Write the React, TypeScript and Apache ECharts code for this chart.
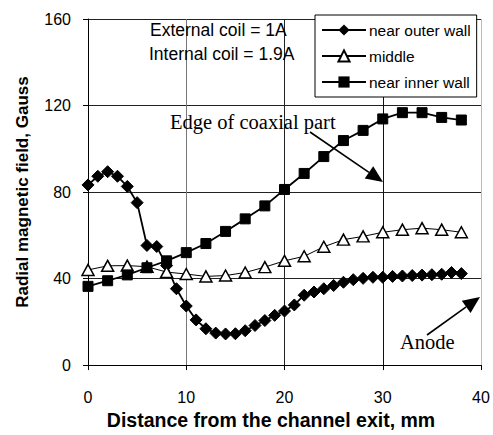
import React, { useEffect, useRef } from "react";
import * as echarts from "echarts";

const outerX = [0,1,2,3,4,5,6,7,8,9,10,11,12,13,14,15,16,17,18,19,20,21,22,23,24,25,26,27,28,29,30,31,32,33,34,35,36,37,38];
const outerY = [83.3,87.3,89.4,87.3,82.6,75.1,55.3,54.8,46,35.3,27.3,20.9,16.8,14.8,14.4,14.5,15.9,18.3,20.6,23,25,27.8,32.3,33.8,35.3,36.8,38.3,39.5,40.1,40.6,40.6,41,41.2,41.4,41.6,41.8,42,42.8,42.3];
const evenX = [0,2,4,6,8,10,12,14,16,18,20,22,24,26,28,30,32,34,36,38];
const middleY = [44,45.9,46,45.5,43,42.1,41,41.4,42.8,45.3,48.2,50.3,54.7,58,59.5,61.4,62.6,63.3,62.6,61.4];
const innerY = [36.4,39,41.7,45,48.2,52,56.2,61.8,67.6,73.6,81.2,88.6,96.4,103.8,108.5,113.8,116.7,116.7,114.5,113.3];
const xTicks = [0, 10, 20, 30, 40];
const yTicks = [0, 40, 80, 120, 160];
const seriesNames = ["near outer wall", "middle", "near inner wall"];

const SANS = "'Liberation Sans', Arial, sans-serif";
const SERIF = "'Liberation Serif', 'Times New Roman', serif";

function pairs(xs: number[], ys: number[]) {
  return xs.map((x, i) => [x, ys[i]]);
}

function arrow(x1: number, y1: number, x2: number, y2: number, headLen: number, headHalf: number) {
  const dx = x2 - x1, dy = y2 - y1;
  const len = Math.sqrt(dx * dx + dy * dy);
  const ux = dx / len, uy = dy / len;
  const bx = x2 - ux * headLen, by = y2 - uy * headLen;
  const px = -uy * headHalf, py = ux * headHalf;
  return [
    { type: "line", shape: { x1, y1, x2: bx, y2: by }, style: { stroke: "#000", lineWidth: 1.6 } },
    { type: "polygon", shape: { points: [[x2, y2], [bx + px, by + py], [bx - px, by - py]] }, style: { fill: "#000" } },
  ];
}

export default function App() {
  const ref = useRef<HTMLDivElement>(null);
  useEffect(() => {
    if (!ref.current) return;
    const chart = echarts.init(ref.current, undefined, { renderer: "svg" });
    chart.setOption({
      animation: false,
      backgroundColor: "#fff",
      grid: { left: 88, right: 12, top: 19, bottom: 64, containLabel: false },
      legend: {
        orient: "vertical",
        left: 315,
        top: 15,
        data: seriesNames,
        backgroundColor: "#fff",
        borderColor: "#000",
        borderWidth: 1,
        borderRadius: 0,
        padding: [7, 6, 7, 6],
        itemGap: 10,
        itemWidth: 44,
        itemHeight: 14,
        textStyle: { fontFamily: SANS, fontSize: 15.5, color: "#000", padding: [0, 0, 0, -2] },
        z: 10,
      },
      xAxis: {
        type: "value",
        min: 0,
        max: 40,
        interval: 10,
        name: "Distance from the channel exit, mm",
        nameLocation: "middle",
        nameGap: 41,
        nameTextStyle: { fontFamily: SANS, fontSize: 19.5, fontWeight: "bold", color: "#000", padding: [0, 27, 0, 0] },
        axisLine: { onZero: false, lineStyle: { color: "#000", width: 1 } },
        axisTick: { show: true, length: 5, inside: false, lineStyle: { color: "#000" } },
        axisLabel: {
          margin: 24,
          fontFamily: SANS,
          fontSize: 16,
          color: "#000",
          formatter: (v: number) => (xTicks.includes(v) ? String(v) : ""),
        },
        splitLine: { show: true, lineStyle: { color: ["#000", "#777", "#222", "#111", "#bbb"], width: 1 } },
      },
      yAxis: {
        type: "value",
        min: 0,
        max: 160,
        interval: 40,
        name: "Radial magnetic field, Gauss",
        nameLocation: "middle",
        nameGap: 57,
        nameTextStyle: { fontFamily: SANS, fontSize: 17, fontWeight: "bold", color: "#000" },
        axisLine: { show: true, lineStyle: { color: "#000", width: 1 } },
        axisTick: { show: true, length: 5, inside: false, lineStyle: { color: "#000" } },
        axisLabel: {
          margin: 17,
          fontFamily: SANS,
          fontSize: 16,
          color: "#000",
          formatter: (v: number) => (yTicks.includes(v) ? String(v) : ""),
        },
        splitLine: { show: true, lineStyle: { color: "#222", width: 1 } },
      },
      series: [
        {
          name: seriesNames[0],
          type: "line",
          data: pairs(outerX, outerY),
          symbol: "diamond",
          symbolSize: [12, 12],
          lineStyle: { color: "#000", width: 1.8 },
          itemStyle: { color: "#000", borderColor: "#000" },
          z: 3,
        },
        {
          name: seriesNames[1],
          type: "line",
          data: pairs(evenX, middleY),
          symbol: "triangle",
          symbolSize: [12, 11],
          lineStyle: { color: "#000", width: 1 },
          itemStyle: { color: "#fff", borderColor: "#000", borderWidth: 1.5 },
          z: 4,
        },
        {
          name: seriesNames[2],
          type: "line",
          data: pairs(evenX, innerY),
          symbol: "rect",
          symbolSize: 10,
          lineStyle: { color: "#000", width: 1.8 },
          itemStyle: { color: "#000", borderColor: "#000" },
          z: 5,
        },
      ],
      graphic: [
        { type: "text", left: 150, top: 21, style: { text: "External coil = 1A", fontFamily: SANS, fontSize: 17.5, fill: "#000" }, z: 20 },
        { type: "text", left: 149, top: 45, style: { text: "Internal coil = 1.9A", fontFamily: SANS, fontSize: 17.5, fill: "#000" }, z: 20 },
        { type: "text", left: 170, top: 111, style: { text: "Edge of coaxial part", fontFamily: SERIF, fontSize: 20.5, fill: "#000" }, z: 20 },
        { type: "text", left: 400, top: 331, style: { text: "Anode", fontFamily: SERIF, fontSize: 20.5, fill: "#000" }, z: 20 },
        ...arrow(310, 132, 383, 182, 17, 7.5).map((e) => ({ ...e, z: 20 })),
        ...arrow(427, 335, 480, 297, 17, 7.5).map((e) => ({ ...e, z: 20 })),
      ],
    });
    return () => chart.dispose();
  }, []);
  return <div ref={ref} style={{ position: "fixed", left: 0, top: 0, width: 493, height: 435 }} />;
}
